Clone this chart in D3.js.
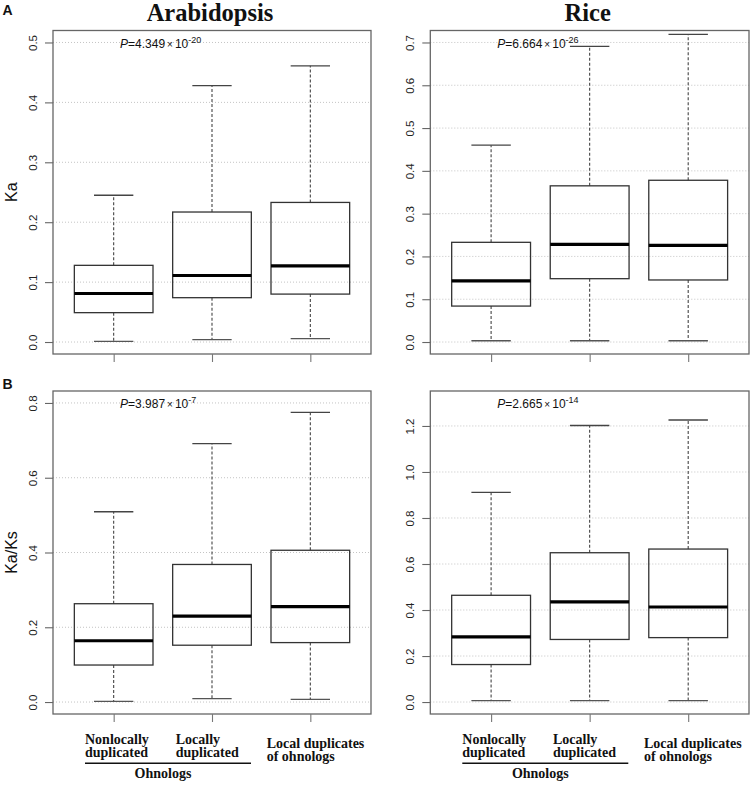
<!DOCTYPE html>
<html><head><meta charset="utf-8">
<script src="https://cdn.jsdelivr.net/npm/d3@7"></script>
<style>
html,body{margin:0;padding:0;background:#fff;}
svg{display:block;}
</style></head>
<body>
<script>
// ---------- data ----------
const categories = ["Nonlocally duplicated", "Locally duplicated", "Local duplicates of ohnologs"];
const species = ["Arabidopsis", "Rice"];
const rowLetters = ["A", "B"];
const yTitles = ["Ka", "Ka/Ks"];
// five-number summaries per category: [lower whisker, Q1, median, Q3, upper whisker]
const kaArabidopsis = [[0.001, 0.049, 0.081, 0.128, 0.245], [0.004, 0.074, 0.111, 0.217, 0.428], [0.0055, 0.080, 0.127, 0.233, 0.461]];
const kaRice = [[0.003, 0.084, 0.143, 0.233, 0.460], [0.003, 0.148, 0.228, 0.365, 0.691], [0.003, 0.145, 0.226, 0.378, 0.719]];
const kaksArabidopsis = [[0.0016, 0.099, 0.164, 0.263, 0.509], [0.009, 0.152, 0.230, 0.368, 0.691], [0.007, 0.159, 0.255, 0.406, 0.775]];
const kaksRice = [[0.006, 0.163, 0.283, 0.464, 0.911], [0.006, 0.272, 0.435, 0.649, 1.202], [0.006, 0.280, 0.413, 0.665, 1.226]];
const pMantissa = ["4.349", "6.664", "3.987", "2.665"];
const pExponent = ["-20", "-26", "-7", "-14"];
const yLimits = [0.5, 0.7, 0.8, 1.3];
const ticksKaArabidopsis = [0, 0.1, 0.2, 0.3, 0.4, 0.5];
const ticksKaRice = [0, 0.1, 0.2, 0.3, 0.4, 0.5, 0.6, 0.7];
const ticksKaksArabidopsis = [0, 0.2, 0.4, 0.6, 0.8];
const ticksKaksRice = [0, 0.2, 0.4, 0.6, 0.8, 1.0, 1.2];
const groupLabel = "Ohnologs";

const panelsData = [
  {row: 0, col: 0, stats: kaArabidopsis, ticks: ticksKaArabidopsis, ymax: yLimits[0], pm: pMantissa[0], pe: pExponent[0]},
  {row: 0, col: 1, stats: kaRice, ticks: ticksKaRice, ymax: yLimits[1], pm: pMantissa[1], pe: pExponent[1]},
  {row: 1, col: 0, stats: kaksArabidopsis, ticks: ticksKaksArabidopsis, ymax: yLimits[2], pm: pMantissa[2], pe: pExponent[2]},
  {row: 1, col: 1, stats: kaksRice, ticks: ticksKaksRice, ymax: yLimits[3], pm: pMantissa[3], pe: pExponent[3]}
];

// ---------- layout ----------
const W = 752, H = 786;
const colX = [[53, 371], [430.3, 749]];
const rowY = [[30.5, 354], [391, 714]];
const sans = "'Liberation Sans', Arial, Helvetica, sans-serif";
const serif = "'Liberation Serif', 'Times New Roman', Times, serif";

const svg = d3.select("body").append("svg").attr("width", W).attr("height", H);

panelsData.forEach(p => {
  const [x0, x1] = colX[p.col];
  const [y0, y1] = rowY[p.row];
  const x = d3.scaleLinear().domain([0.383, 3.617]).range([x0, x1]);
  const y = d3.scaleLinear().domain([-0.04 * p.ymax, 1.04 * p.ymax]).range([y1, y0]);
  const g = svg.append("g");

  // grid
  g.append("g").selectAll("line").data(p.ticks).join("line")
    .attr("x1", x0).attr("x2", x1)
    .attr("y1", d => y(d)).attr("y2", d => y(d))
    .attr("stroke", "#bdbdbd").attr("stroke-width", 0.9).attr("stroke-dasharray", "1,2");

  // boxes
  const bw = 0.8, cw = 0.4;
  const box = g.append("g").selectAll("g").data(p.stats).join("g");
  box.append("line") // upper whisker
    .attr("x1", (d, i) => x(i + 1)).attr("x2", (d, i) => x(i + 1))
    .attr("y1", d => y(d[3])).attr("y2", d => y(d[4]))
    .attr("stroke", "#444").attr("stroke-width", 1.1).attr("stroke-dasharray", "3,2");
  box.append("line") // lower whisker
    .attr("x1", (d, i) => x(i + 1)).attr("x2", (d, i) => x(i + 1))
    .attr("y1", d => y(d[1])).attr("y2", d => y(d[0]))
    .attr("stroke", "#444").attr("stroke-width", 1.1).attr("stroke-dasharray", "3,2");
  box.append("line") // upper cap
    .attr("x1", (d, i) => x(i + 1 - cw / 2)).attr("x2", (d, i) => x(i + 1 + cw / 2))
    .attr("y1", d => y(d[4])).attr("y2", d => y(d[4]))
    .attr("stroke", "#444").attr("stroke-width", 1.3);
  box.append("line") // lower cap
    .attr("x1", (d, i) => x(i + 1 - cw / 2)).attr("x2", (d, i) => x(i + 1 + cw / 2))
    .attr("y1", d => y(d[0])).attr("y2", d => y(d[0]))
    .attr("stroke", "#555").attr("stroke-width", 1.3);
  box.append("rect")
    .attr("x", (d, i) => x(i + 1 - bw / 2))
    .attr("width", (d, i) => x(i + 1 + bw / 2) - x(i + 1 - bw / 2))
    .attr("y", d => y(d[3])).attr("height", d => y(d[1]) - y(d[3]))
    .attr("fill", "none").attr("stroke", "#333").attr("stroke-width", 1.3);
  box.append("line") // median
    .attr("x1", (d, i) => x(i + 1 - bw / 2)).attr("x2", (d, i) => x(i + 1 + bw / 2))
    .attr("y1", d => y(d[2])).attr("y2", d => y(d[2]))
    .attr("stroke", "#000").attr("stroke-width", 3.2);

  // frame
  g.append("rect").attr("x", x0).attr("y", y0).attr("width", x1 - x0).attr("height", y1 - y0)
    .attr("fill", "none").attr("stroke", "#666").attr("stroke-width", 1.3);

  // y axis
  const ya = g.append("g").attr("transform", `translate(${x0},0)`)
    .call(d3.axisLeft(y).tickValues(p.ticks).tickSize(8).tickPadding(0).tickFormat(d3.format(".1f")));
  ya.select(".domain").remove();
  ya.selectAll(".tick line").attr("stroke", "#666").attr("stroke-width", 1.1);
  ya.selectAll(".tick text")
    .attr("x", null).attr("dy", null)
    .attr("transform", "translate(-16,0) rotate(-90)")
    .attr("text-anchor", "middle")
    .attr("fill", "#222")
    .style("font-family", sans).style("font-size", "11.5px");

  // x axis ticks
  const xa = g.append("g").attr("transform", `translate(0,${y1})`)
    .call(d3.axisBottom(x).tickValues([1, 2, 3]).tickSize(8).tickFormat(""));
  xa.select(".domain").remove();
  xa.selectAll(".tick line").attr("stroke", "#777").attr("stroke-width", 1.1);

  // p-value
  const pt = g.append("text").attr("x", x0 + 67).attr("y", y0 + 17)
    .style("font-family", sans).style("font-size", "12px").attr("fill", "#111");
  pt.append("tspan").attr("font-style", "italic").text("P");
  pt.append("tspan").text("=" + p.pm);
  pt.append("tspan").attr("dx", 2).style("font-size", "10px").text("×");
  pt.append("tspan").attr("dx", 2).text("10");
  pt.append("tspan").attr("dy", -5).style("font-size", "9px").text(p.pe);

  // category labels under bottom row
  if (p.row === 1) {
    const lg = g.append("g").style("font-family", serif).style("font-size", "14px")
      .style("font-weight", "bold").attr("fill", "#111");
    const lines0 = ["Nonlocally", "duplicated"];
    const lines1 = ["Locally", "duplicated"];
    const lines2 = ["Local duplicates", "of ohnologs"];
    [[lines0, x0 + 32, 743.5], [lines1, x0 + 122.7, 743.5], [lines2, x0 + 213.7, 747.5]].forEach(([ls, lx, ly]) => {
      const t = lg.append("text").attr("x", lx).attr("y", ly);
      ls.forEach((s, k) => t.append("tspan").attr("x", lx).attr("dy", k === 0 ? 0 : 13.3).text(s));
    });
    lg.append("line").attr("x1", x0 + 32).attr("x2", x0 + 198).attr("y1", 763.3).attr("y2", 763.3)
      .attr("stroke", "#111").attr("stroke-width", 1.6);
    lg.append("text").attr("x", x0 + 110).attr("y", 778).attr("text-anchor", "middle").text(groupLabel);
  }

  // y title on left column
  if (p.col === 0) {
    svg.append("text")
      .attr("transform", `translate(16.5,${(y0 + y1) / 2}) rotate(-90)`)
      .attr("text-anchor", "middle")
      .style("font-family", sans).style("font-size", "16px").attr("fill", "#111")
      .text(yTitles[p.row]);
  }
  // species title on top row
  if (p.row === 0) {
    svg.append("text").attr("x", (x0 + x1) / 2 - 2).attr("y", 20.5).attr("text-anchor", "middle")
      .style("font-family", serif).style("font-size", "24.5px").style("font-weight", "bold").attr("fill", "#111")
      .text(species[p.col]);
  }
});

// row letters
svg.selectAll("text.letter").data(rowLetters).join("text").attr("class", "letter")
  .attr("x", 2.5).attr("y", (d, i) => i === 0 ? 15 : 389)
  .style("font-family", sans).style("font-size", "14px").style("font-weight", "bold").attr("fill", "#111")
  .text(d => d);
</script>
</body></html>
